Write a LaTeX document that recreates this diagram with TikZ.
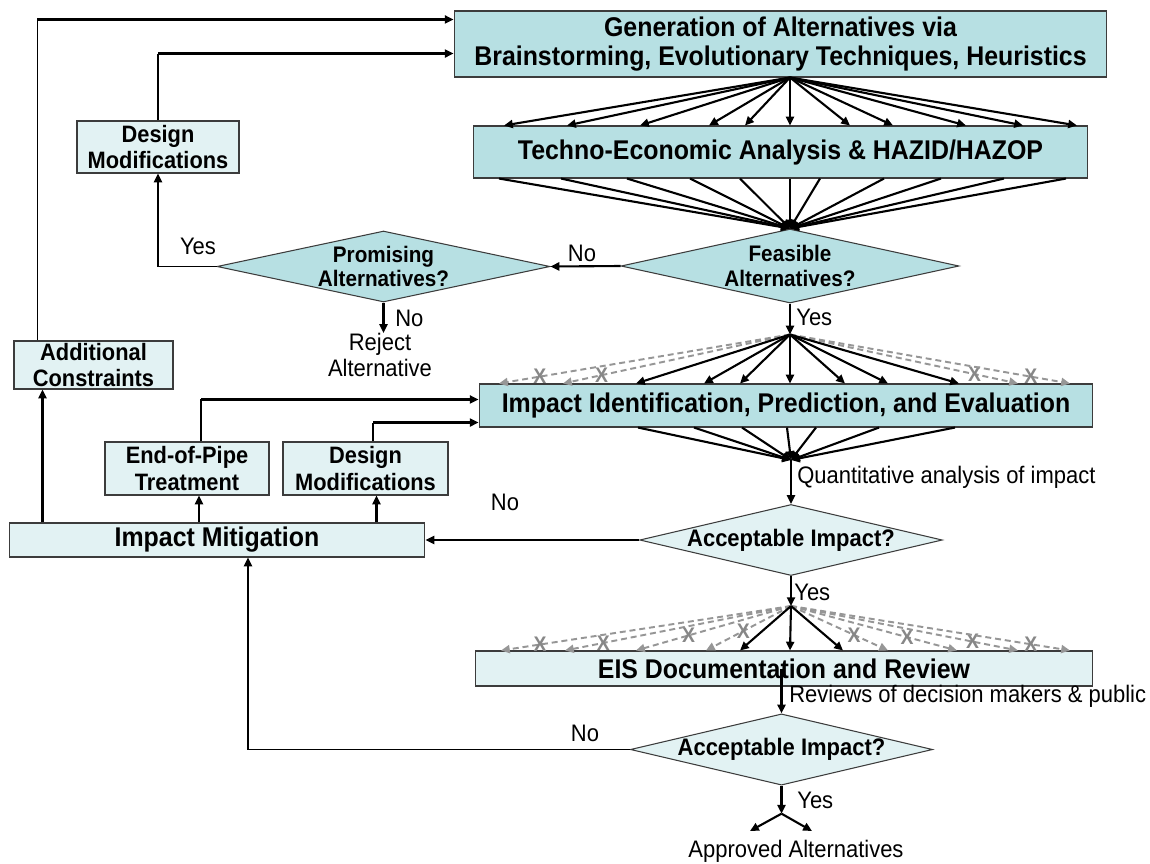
\documentclass[tikz,border=0pt]{standalone}
\usepackage{fontspec}
\setmainfont{Liberation Sans}[FakeStretch=0.92]
\usetikzlibrary{arrows.meta,calc,shapes.geometric}
\definecolor{boxdark}{RGB}{183,224,227}
\definecolor{boxlight}{RGB}{226,242,243}
\definecolor{rejgray}{RGB}{150,150,150}
\definecolor{markgray}{RGB}{135,135,135}
\definecolor{edgegray}{RGB}{60,60,60}

\begin{document}
\begin{tikzpicture}[x=0.02cm,y=-0.02cm,
  box/.style={draw=edgegray,line width=0.6pt,inner sep=0pt,align=center,text=black},
  bigbox/.style={box,font=\bfseries\fontsize{15.4}{17}\selectfont},
  smallbox/.style={box,fill=boxlight,font=\bfseries\fontsize{13.5}{15.2}\selectfont},
  decide/.style={diamond,draw=edgegray,line width=0.6pt,inner sep=0pt,align=center,
    font=\bfseries\fontsize{12.8}{13.8}\selectfont},
  accfont/.style={font=\bfseries\fontsize{13.6}{15}\selectfont},
  lbl/.style={font=\fontsize{13.6}{14.8}\selectfont,inner sep=0pt},
  arr/.style={line width=1.2pt,-{Triangle[length=5pt,width=4.6pt]}},
  thinln/.style={line width=0.6pt},
  rejected/.style={line width=1.1pt,draw=rejgray,dash pattern=on 3.4pt off 2.2pt,
    -{Triangle[length=5pt,width=4.6pt]}},
  xmark/.style={text=markgray,font=\bfseries\fontsize{12}{12}\selectfont,inner sep=0pt}
]
\fill[white] (0,0) rectangle (1150,863);
\useasboundingbox (0,0) rectangle (1150,863);

% ---- process boxes ----
\node[bigbox,fill=boxdark,minimum width=13.06cm,minimum height=1.32cm] (gen) at (780.5,44)
  {Generation of Alternatives via\\Brainstorming, Evolutionary Techniques, Heuristics};
\node[bigbox,fill=boxdark,minimum width=12.3cm,minimum height=1.04cm] (tech) at (780.5,152)
  {Techno-Economic Analysis \& HAZID/HAZOP};
\node[bigbox,fill=boxdark,minimum width=12.28cm,minimum height=0.86cm] (impid) at (786,405.5)
  {Impact Identification, Prediction, and Evaluation};
\node[bigbox,fill=boxlight,minimum width=12.36cm,minimum height=0.7cm] (eis) at (784,668.5)
  {EIS Documentation and Review};
\node[bigbox,fill=boxlight,minimum width=8.32cm,minimum height=0.68cm] (mit) at (217,540)
  {Impact Mitigation};

\node[smallbox,minimum width=3.24cm,minimum height=1.04cm] (dm1) at (158,147)
  {Design\\Modifications};
\node[smallbox,minimum width=3.18cm,minimum height=0.96cm] (addc) at (93.5,365)
  {Additional\\Constraints};
\node[smallbox,minimum width=3.28cm,minimum height=1.06cm] (eop) at (187,468.5)
  {End-of-Pipe\\Treatment};
\node[smallbox,minimum width=3.3cm,minimum height=1.06cm] (dm2) at (365.5,468.5)
  {Design\\Modifications};

% ---- decisions ----
\node[decide,fill=boxdark,aspect=4.57,minimum width=6.76cm,minimum height=1.48cm] (feas) at (790,266)
  {Feasible\\Alternatives?};
\node[decide,fill=boxdark,aspect=4.69,minimum width=6.66cm,minimum height=1.42cm] (prom) at (383.5,266.5)
  {Promising\\Alternatives?};
\node[decide,accfont,fill=boxlight,aspect=4.26,minimum width=5.96cm,minimum height=1.4cm] (acc1) at (791,540)
  {Acceptable Impact?};
\node[decide,accfont,fill=boxlight,aspect=4.24,minimum width=6.02cm,minimum height=1.42cm] (acc2) at (781.5,749.5)
  {Acceptable Impact?};

% ---- free texts ----
\node[lbl,align=center,anchor=north] (rej) at (380,333) {Reject\\Alternative};
\node[lbl] (lyes1) at (198,246) {Yes};
\node[lbl] (lno1) at (582,253) {No};
\node[lbl,anchor=west] (lno2) at (395,318) {No};
\node[lbl,anchor=west] (lyes2) at (796,317) {Yes};
\node[lbl,anchor=west] (lquant) at (797,477) {Quantitative analysis of impact};
\node[lbl] (lno3) at (505,502) {No};
\node[lbl,anchor=west] (lyes3) at (794,592) {Yes};
\node[lbl,anchor=west] (lrev) at (789,696) {Reviews of decision makers \& public};
\node[lbl] (lno4) at (585,733) {No};
\node[lbl,anchor=west] (lyes4) at (797,800) {Yes};
\node[lbl] (appr) at (796,851) {Approved Alternatives};

% ---- generation fan ----
\foreach \x in {504,567,640,709,745,790,850,893,966,1023,1077}
  \draw[arr] (feas.north |- gen.south) -- (\x,0 |- tech.north);
\foreach \x in {499,561,627,690,740,790,820,884,941,1004,1066}
  \draw[arr] (\x,0 |- tech.south) -- (feas.north);

% ---- feasibility ----
\draw[arr] (feas.west) -- (prom.east);
\draw[thinln] (prom.west) -- (dm1.south |- prom.west);
\draw[line width=1.5pt,-{Triangle[length=5pt,width=4.6pt]}] (dm1.south |- prom.west) -- (dm1.south);
\draw[arr] (prom.south) -- (prom.south |- rej.north);

\coordinate (dmg) at ($(gen.south west)+(0,-24)$);
\draw[thinln] (dm1.north) -- (dm1.north |- dmg);
\draw[arr] (dm1.north |- dmg) -- (dmg);

\coordinate (topc) at ($(addc.north west)+(24,0)$);
\coordinate (topg) at ($(gen.north west)+(0,9)$);
\draw[thinln] (topc) -- (topc |- topg);
\draw[arr] (topc |- topg) -- (topg);

% ---- impact identification fan ----
\coordinate (fsrc) at ($(feas.south)+(0,31)$);
\draw[arr] (feas.south) -- (fsrc);
\foreach \x/\t in {499/0.86,563/0.83,1018/0.81,1070/0.86}
  \draw[rejected] (fsrc) -- node[pos=\t,xmark]{X} (\x,0 |- impid.north);
\foreach \x in {636,704,740,790,845,888,959}
  \draw[arr] (fsrc) -- (\x,0 |- impid.north);

\coordinate (qsrc) at ($(acc1.north)+(0,-44)$);
\foreach \x in {638,694,742,787,816,879,955}
  \draw[arr] (\x,0 |- impid.south) -- (qsrc);
\draw[arr] (qsrc) -- (acc1.north);

% ---- mitigation loop ----
\draw[arr] (acc1.west) -- (acc1.west -| mit.east);
\coordinate (ma) at ($(mit.north west)+(34,0)$);
\draw[arr] (ma) -- (ma |- addc.south);
\coordinate (me) at ($(eop.south)+(12,0)$);
\draw[arr] (me |- mit.north) -- (me);
\coordinate (md) at ($(dm2.south)+(11,0)$);
\draw[arr] (md |- mit.north) -- (md);

\coordinate (ei) at ($(impid.north west)+(0,16)$);
\coordinate (eo) at ($(eop.north)+(14,0)$);
\draw[thinln] (eo) -- (eo |- ei);
\draw[arr] (eo |- ei) -- (ei);
\coordinate (di) at ($(impid.south west)+(0,-5)$);
\coordinate (dd) at ($(dm2.north)+(7.5,0)$);
\draw[thinln] (dd) -- (dd |- di);
\draw[arr] (dd |- di) -- (di);

% ---- EIS fan ----
\coordinate (esrc) at ($(acc1.south)+(0,30)$);
\draw[arr] (acc1.south) -- (esrc);
\foreach \x/\t in {501/0.865,565/0.83,636/0.66,706/0.56,888/0.65,957/0.70,1018/0.80,1070/0.86}
  \draw[rejected] (esrc) -- node[pos=\t,xmark]{X} (\x,0 |- eis.north);
\foreach \x in {740,790,843}
  \draw[arr] (esrc) -- (\x,0 |- eis.north);

\draw[arr] (acc2.north |- eis.center) -- (acc2.north);

% ---- final review ----
\coordinate (nb) at (acc2.west -| 248,0);
\draw[thinln] (acc2.west) -- (nb);
\draw[arr] (nb) -- (nb |- mit.south);

\coordinate (split) at ($(acc2.south)+(0,28)$);
\coordinate (a1) at (750,831);
\coordinate (a2) at (812,831);
\draw[arr] (acc2.south) -- (split);
\draw[arr] (split) -- (a1);
\draw[arr] (split) -- (a2);
\end{tikzpicture}
\end{document}
